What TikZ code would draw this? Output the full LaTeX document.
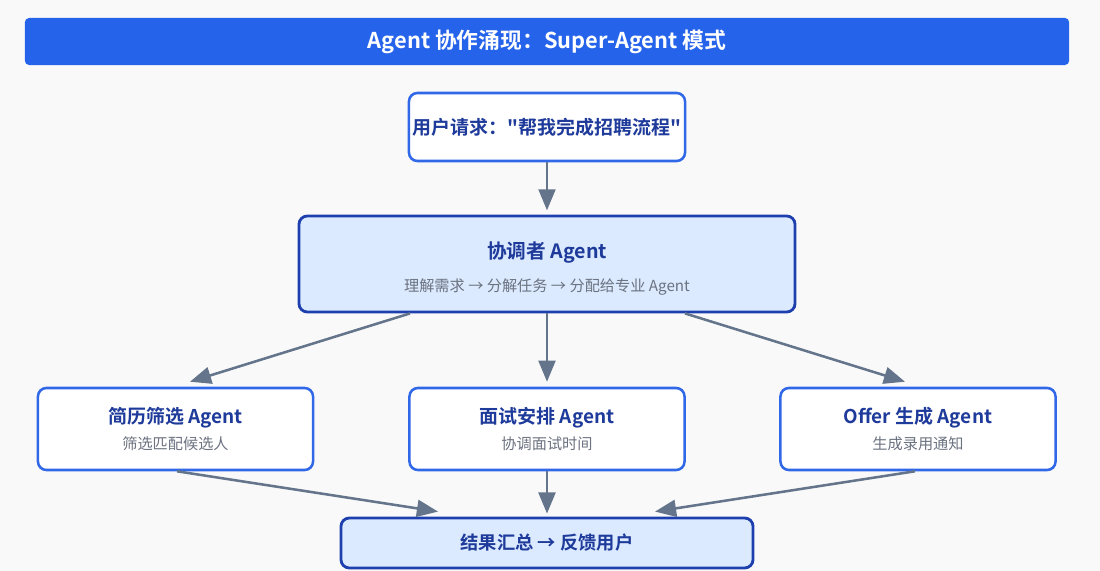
\documentclass[tikz,border=0pt]{standalone}
\usepackage{fontspec}
\setmainfont{Noto Sans CJK SC}[BoldFont={Noto Sans CJK SC Bold}, Ligatures=TeXOff]
\usetikzlibrary{arrows.meta,calc}

\definecolor{bggray}{HTML}{F9F9FA}
\definecolor{barblue}{HTML}{2563EB}
\definecolor{boxblue}{HTML}{3068E8}
\definecolor{darkblue}{HTML}{1E40AF}
\definecolor{titleblue}{HTML}{1E3A9A}
\definecolor{lightblue}{HTML}{DBEAFE}
\definecolor{subgray}{HTML}{6B7280}
\definecolor{flowgray}{HTML}{64748B}

\begin{document}
\begin{tikzpicture}[x=0.025cm, y=-0.025cm,
    headbar/.style={fill=barblue, rounded corners=3pt, minimum width=26.1cm,
        minimum height=1.175cm, text=white, font=\fontsize{15.5pt}{18pt}\selectfont\bfseries},
    userbox/.style={draw=boxblue, fill=white, line width=1.8pt, rounded corners=6pt,
        minimum width=6.9cm, minimum height=1.7cm, inner sep=1pt, text=titleblue,
        font=\fontsize{13.5pt}{16pt}\selectfont\bfseries},
    agentbox/.style={draw=boxblue, fill=white, line width=1.8pt, rounded corners=6pt,
        minimum width=6.875cm, minimum height=2.05cm, align=center, text=titleblue},
    mainbox/.style={draw=darkblue, fill=lightblue, line width=2pt, rounded corners=6pt,
        align=center, text=titleblue},
    flow/.style={draw=flowgray, line width=1.8pt,
        -{Triangle[length=15pt, width=12pt]}},
]
    \useasboundingbox[fill=bggray] (0,0) rectangle (1100,571);

    % Title
    \node[headbar] (title) at (547,41.5) {Agent 协作涌现：Super-Agent 模式};

    % Request and coordinator
    \node[userbox] (user) at (547,127) {用户请求："帮我完成招聘流程"};
    \node[mainbox, minimum width=12.4cm, minimum height=2.4cm] (coord) at (547,264)
        {\rule{0pt}{19pt}{\fontsize{14pt}{17pt}\selectfont\bfseries 协调者 Agent}\\[10pt]
         {\fontsize{10.8pt}{13pt}\selectfont\color{subgray} 理解需求 → 分解任务 → 分配给专业 Agent}};

    % Specialist agents
    \foreach \name/\x/\head/\sub in {screen/175.5/简历筛选 Agent/筛选匹配候选人,
                                     interview/547/面试安排 Agent/协调面试时间,
                                     offer/918/Offer 生成 Agent/生成录用通知} {
        \node[agentbox] (\name) at (\x,429)
            {{\fontsize{13.5pt}{16pt}\selectfont\bfseries \head}\\[5pt]
             {\fontsize{10.8pt}{13pt}\selectfont\color{subgray} \sub}};
    }

    % Summary
    \node[mainbox, minimum width=10.3cm, minimum height=1.25cm,
        font=\fontsize{13pt}{16pt}\selectfont\bfseries] (result) at (547,543)
        {结果汇总 → 反馈用户};

    % Connectors
    \draw[flow, shorten >=3pt] (user) -- (coord);
    \draw[flow] ($(coord.south)+(-137,0)$) -- ($(screen.north)+(14.5,-5)$);
    \draw[flow] (coord) -- ($(interview.north)+(0,-5)$);
    \draw[flow] ($(coord.south)+(138,0)$) -- ($(offer.north)+(-13,-5)$);

    \draw[flow] ($(screen.south)+(1.5,0)$) -- ($(result.north)+(-109,-5)$);
    \draw[flow] (interview) -- ($(result.north)+(0,-3)$);
    \draw[flow] ($(offer.south)+(-3,0)$) -- ($(result.north)+(108,-5)$);
\end{tikzpicture}
\end{document}
